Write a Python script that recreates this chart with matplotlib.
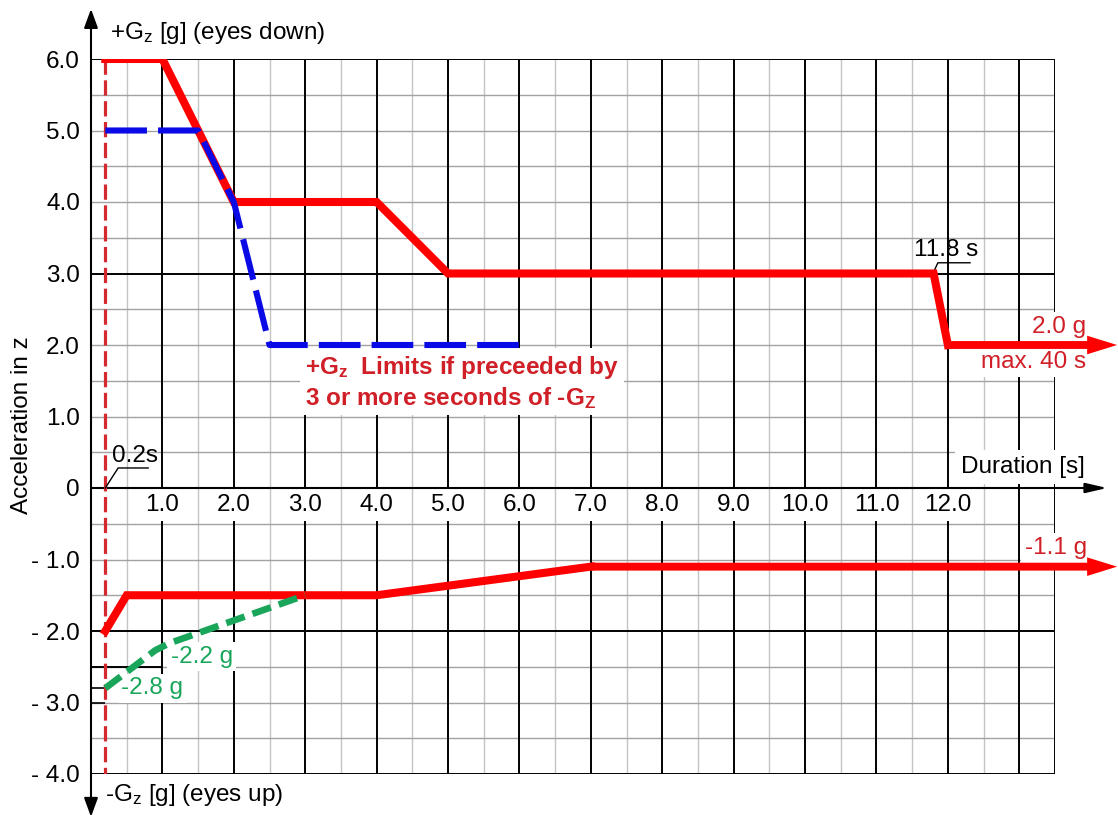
import numpy as np
import matplotlib
matplotlib.use("Agg")
import matplotlib.pyplot as plt

plt.rcParams['font.family'] = ['Liberation Sans', 'DejaVu Sans']
plt.rcParams['mathtext.fontset'] = 'custom'
plt.rcParams['mathtext.rm'] = 'Liberation Sans'
plt.rcParams['mathtext.it'] = 'Liberation Sans:italic'
plt.rcParams['mathtext.bf'] = 'Liberation Sans:bold'
plt.rcParams['lines.scale_dashes'] = False

# ---------------- data ----------------
# +Gz limit (red solid, upper)
t_upper = [0.2, 1.0, 2.0, 4.0, 5.0, 11.8, 12.0]
g_upper = [6.0, 6.0, 4.0, 4.0, 3.0, 3.0, 2.0]
upper_arrow_end = 14.37
# +Gz limit if preceded by -Gz (blue dashed)
t_blue = [0.2, 1.5, 2.0, 2.5, 6.0]
g_blue = [5.0, 5.0, 4.0, 2.0, 2.0]
# -Gz limit (red solid, lower)
t_lower = [0.2, 0.5, 4.0, 7.0]
g_lower = [-2.0, -1.5, -1.5, -1.1]
lower_arrow_end = 14.37
# -Gz alternative (green dashed)
t_green = [0.2, 0.9, 1.1, 3.0]
g_green = [-2.8, -2.27, -2.17, -1.5]
# onset time
t_onset = 0.2

x_ticks = [1.0, 2.0, 3.0, 4.0, 5.0, 6.0, 7.0, 8.0, 9.0, 10.0, 11.0, 12.0]
x_ticklabels = ['1.0', '2.0', '3.0', '4.0', '5.0', '6.0', '7.0', '8.0', '9.0', '10.0', '11.0', '12.0']
y_ticks = [6, 5, 4, 3, 2, 1, 0, -1, -2, -3, -4]
y_ticklabels = ['6.0', '5.0', '4.0', '3.0', '2.0', '1.0', '0', '- 1.0', '- 2.0', '- 3.0', '- 4.0']

RED = '#ff0000'
DRED = '#d42a2f'
TRED = '#d01f27'
BLUE = '#0a0ae6'
GREEN = '#1aa65a'

W, H = 1118, 819
fig = plt.figure(figsize=(W / 100, H / 100), dpi=100)
ax = fig.add_axes([91 / W, 45 / H, 964 / W, 715 / H])
ax.set_xlim(0, 13.5)
ax.set_ylim(-4, 6)
for s in ax.spines.values():
    s.set_visible(False)

FS = 17.5

# ---------------- grid ----------------
for xv in np.arange(0.5, 13.51, 0.5):
    if abs(xv - round(xv)) < 1e-9 or abs(xv - 13.5) < 1e-9:
        ax.axvline(xv, color='black', lw=1.4, zorder=1)
    else:
        ax.axvline(xv, color='#c4c4c4', lw=1.0, zorder=0.9)
major_h = [6, 3, 0, -2, -4]
for yv in np.arange(-4, 6.01, 0.5):
    if any(abs(yv - m) < 1e-9 for m in major_h):
        ax.hlines(yv, 0, 13.5, color='black', lw=1.4, zorder=1)
    else:
        ax.hlines(yv, 0, 13.5, color='#a2a2a2', lw=1.0, zorder=0.95)

# small marker lines near the green labels
ax.hlines(-2.5, 0, 1.0, color='black', lw=1.4, zorder=1.1)
ax.hlines([-2.8, -3.0], 0, t_onset, color='black', lw=1.2, zorder=1.1)

# ---------------- axes arrows ----------------
ax.annotate('', xy=(0, 6.7), xytext=(0, -4.6), annotation_clip=False,
            arrowprops=dict(arrowstyle='<|-|>,head_length=1.15,head_width=0.42',
                            mutation_scale=10, color='black', lw=1.5,
                            shrinkA=0, shrinkB=0), zorder=6)
ax.annotate('', xy=(14.23, 0), xytext=(0, 0), annotation_clip=False,
            arrowprops=dict(arrowstyle='-|>,head_length=1.3,head_width=0.3',
                            mutation_scale=10, color='black', lw=1.5,
                            shrinkA=0, shrinkB=0), zorder=4)

# ---------------- ticks ----------------
ax.set_xticks([])
ax.set_yticks(y_ticks)
ax.set_yticklabels(y_ticklabels, fontsize=FS)
ax.tick_params(axis='y', length=0, pad=8)
bb = dict(boxstyle='square,pad=0.2', fc='white', ec='none')
for xv, lab in zip(x_ticks, x_ticklabels):
    ax.text(xv, -0.24, lab, ha='center', va='center', fontsize=FS, bbox=bb, zorder=3)

# ---------------- data lines ----------------
ax.plot([t_onset, t_onset], [g_upper[0], -4.0], color=DRED, lw=2.3,
        dashes=(11, 4), zorder=4)
ax.plot(t_upper, g_upper, color=RED, lw=5.8, solid_joinstyle='miter', zorder=5)
ax.arrow(t_upper[-1], g_upper[-1], upper_arrow_end - t_upper[-1], 0, width=0.11,
         head_width=0.26, head_length=0.42, length_includes_head=True,
         fc=RED, ec='none', clip_on=False, zorder=5)
ax.plot(t_blue, g_blue, color=BLUE, lw=4.4, dashes=(30, 8), zorder=6)
ax.plot(t_lower, g_lower, color=RED, lw=5.8, solid_joinstyle='miter', zorder=5)
ax.arrow(t_lower[-1], g_lower[-1], lower_arrow_end - t_lower[-1], 0, width=0.11,
         head_width=0.26, head_length=0.42, length_includes_head=True,
         fc=RED, ec='none', clip_on=False, zorder=5)
ax.plot(t_green, g_green, color=GREEN, lw=4.8, dashes=(14, 6), zorder=6)

# ---------------- annotations ----------------
wb = dict(boxstyle='square,pad=0.15', fc='white', ec='none')
ax.text(0.27, 6.36, '+G$_\\mathrm{z}$ [g] (eyes down)', fontsize=FS, va='center',
        ha='left', clip_on=False)
ax.text(0.2, -4.29, '-G$_\\mathrm{z}$ [g] (eyes up)', fontsize=FS, va='center',
        ha='left', clip_on=False)
fig.text(22 / W, 1 - 425 / H, 'Acceleration in z', rotation=90, fontsize=FS,
         va='center', ha='center')
ax.text(13.92, 0.29, 'Duration [s]', fontsize=FS, ha='right', va='center',
        bbox=dict(boxstyle='square,pad=0.25', fc='white', ec='none'), zorder=3)

# 0.2 s leader
ax.plot([0.2, 0.38, 0.80], [0.0, 0.28, 0.28], color='black', lw=1.0, zorder=4)
ax.text(0.62, 0.45, '0.2s', fontsize=FS, ha='center', va='center', zorder=4)
# 11.8 s leader
ax.plot([11.79, 11.86, 12.31], [3.0, 3.15, 3.15], color='black', lw=1.0, zorder=4)
ax.text(11.97, 3.33, '11.8 s', fontsize=FS, ha='center', va='center', zorder=4)

ax.text(13.93, 2.25, '2.0 g', fontsize=FS, color=TRED, ha='right', va='center',
        bbox=wb, zorder=3)
ax.text(13.93, 1.76, 'max. 40 s', fontsize=FS, color=TRED, ha='right', va='center',
        bbox=wb, zorder=3)
ax.text(13.95, -0.84, '-1.1 g', fontsize=FS, color=TRED, ha='right', va='center',
        bbox=wb, zorder=3)

ax.text(1.55, -2.36, '-2.2 g', fontsize=FS, color=GREEN, ha='center', va='center',
        bbox=wb, zorder=3)
ax.text(0.86, -2.80, '-2.8 g', fontsize=FS, color=GREEN, ha='center', va='center',
        bbox=wb, zorder=3)

ax.text(3.0, 1.48, '+G$_\\mathbf{z}$  Limits if preceeded by\n3 or more seconds of -$\\mathbf{G_Z}$',
        fontsize=FS, fontweight='bold', color=TRED, ha='left', va='center',
        linespacing=1.2, bbox=dict(boxstyle='square,pad=0.2', fc='white', ec='none'),
        zorder=3)

fig.savefig('out.png', dpi=100)
